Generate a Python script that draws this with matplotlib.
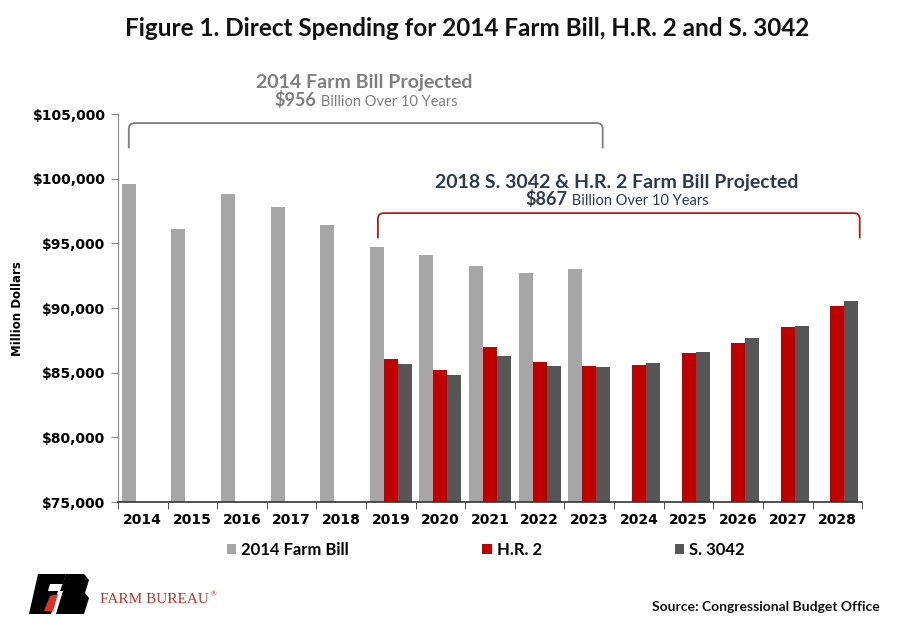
import numpy as np
import matplotlib
matplotlib.use("Agg")
import matplotlib.pyplot as plt
from matplotlib.path import Path
from matplotlib.patches import PathPatch, Polygon
from matplotlib.transforms import ScaledTranslation

# ── Data (million dollars) ───────────────────────────────────────────────────
years = [2014, 2015, 2016, 2017, 2018, 2019, 2020, 2021, 2022, 2023,
         2024, 2025, 2026, 2027, 2028]
farm_bill_2014 = [99560, 96120, 98790, 97800, 96430, 94730, 94090, 93230, 92720, 93030,
                  None, None, None, None, None]
hr2 = [None, None, None, None, None, 86090, 85240, 86990, 85800, 85500,
       85630, 86530, 87330, 88570, 90140]
s3042 = [None, None, None, None, None, 85700, 84850, 86270, 85550, 85440,
         85750, 86600, 87720, 88620, 90580]
series_names = ["2014 Farm Bill", "H.R. 2", "S. 3042"]
y_ticks = [75000, 80000, 85000, 90000, 95000, 100000, 105000]

# ── Style ─────────────────────────────────────────────────────────────────────
NARROW = ["Lato", "DejaVu Sans"]
MAIN = ["DejaVu Sans"]
SERIF = ["Liberation Serif", "DejaVu Serif"]
C_GRAY = "#A6A6A6"
C_RED = "#C00000"
C_DARK = "#565656"
C_NAVY = "#2E3A4C"
C_LABEL = "#7F7F7F"


def bracket(ax, x0, x1, y_top, drop, color, rx=0.12, ry=450):
    """Rounded square bracket opening downward, drawn in data coords."""
    verts = [
        (x0, y_top - drop), (x0, y_top - ry), (x0, y_top), (x0 + rx, y_top),
        (x1 - rx, y_top), (x1, y_top), (x1, y_top - ry), (x1, y_top - drop),
    ]
    codes = [Path.MOVETO, Path.LINETO, Path.CURVE3, Path.CURVE3,
             Path.LINETO, Path.CURVE3, Path.CURVE3, Path.LINETO]
    ax.add_patch(PathPatch(Path(verts, codes), fill=False, edgecolor=color,
                           lw=1.3, clip_on=False))


def two_part(ax, xc, y, parts, color):
    """Centre a line made of differently styled pieces on (xc, y)."""
    fig = ax.figure
    renderer = fig.canvas.get_renderer()
    texts = [ax.text(xc, y, s, ha="left", va="baseline", family=NARROW,
                     color=color, clip_on=False, **kw) for s, kw in parts]
    widths = [t.get_window_extent(renderer).width for t in texts]
    offset = -sum(widths) / 2
    for t, wd in zip(texts, widths):
        t.set_transform(ax.transData + ScaledTranslation(offset / fig.dpi, 0,
                                                         fig.dpi_scale_trans))
        offset += wd


def main():
    fig = plt.figure(figsize=(9, 6.23), dpi=100)
    ax = fig.add_axes([0.131, 0.194, 0.827, 0.623])

    x = np.arange(len(years))
    w = 0.282
    colors = [C_GRAY, C_RED, C_DARK]
    for i, (vals, c, name) in enumerate(zip([farm_bill_2014, hr2, s3042], colors, series_names)):
        xs = [xi + (i - 1) * w for xi, v in zip(x, vals) if v is not None]
        vs = [v for v in vals if v is not None]
        ax.bar(xs, vs, width=w, color=c, label=name, align="center", zorder=2)

    ax.set_xlim(-0.5, len(years) - 0.5)
    ax.set_ylim(y_ticks[0], y_ticks[-1])
    ax.set_yticks(y_ticks)
    ax.set_yticklabels([f"${v:,.0f}" for v in y_ticks], family=MAIN,
                       fontweight="bold", fontsize=10)
    ax.set_xticks(x)
    ax.set_xticklabels([str(y) for y in years], family=MAIN,
                       fontweight="bold", fontsize=10)
    ax.set_xticks(np.arange(-0.5, len(years)), minor=True)
    ax.tick_params(axis="x", which="major", length=0, pad=8)
    ax.tick_params(axis="x", which="minor", length=5, color="#333333")
    ax.tick_params(axis="y", length=5, color="#888888", pad=4)

    for s in ["top", "right"]:
        ax.spines[s].set_visible(False)
    ax.spines["left"].set_color("#888888")
    ax.spines["bottom"].set_color("#333333")
    ax.spines["bottom"].set_linewidth(1.2)

    ax.set_ylabel("Million Dollars", family=MAIN, fontweight="bold",
                  fontsize=8.5, labelpad=6)

    # ── Brackets and bracket labels ──────────────────────────────────────────
    bracket(ax, -0.28, 9.27, 104300, 1950, "#7F7F7F")
    bracket(ax, 4.74, 14.45, 97340, 1950, "#B01C1C")

    ax.text(4.47, 107450, "2014 Farm Bill Projected", ha="center", va="center",
            family=NARROW, fontweight="bold", fontsize=14, color=C_LABEL,
            clip_on=False)
    two_part(ax, 4.5, 105650, [("$956", {"fontweight": "bold", "fontsize": 13}),
                               (" Billion Over 10 Years", {"fontsize": 10.5})], C_LABEL)

    ax.text(9.56, 99700, "2018 S. 3042 & H.R. 2 Farm Bill Projected", ha="center",
            va="center", family=NARROW, fontweight="bold", fontsize=14,
            color=C_NAVY, clip_on=False)
    two_part(ax, 9.56, 97990, [("$867", {"fontweight": "bold", "fontsize": 13}),
                               (" Billion Over 10 Years", {"fontsize": 10.5})], C_NAVY)

    # ── Title, legend, footer ────────────────────────────────────────────────
    fig.text(0.519, 0.955, "Figure 1. Direct Spending for 2014 Farm Bill, H.R. 2 and S. 3042",
             ha="center", va="center", family=NARROW, fontweight="bold",
             fontsize=17.5, color="#111111")

    fig.legend(loc="center", bbox_to_anchor=(0.54, 0.117), ncol=3,
               frameon=False, handlelength=0.55, handleheight=0.55,
               handletextpad=0.3, columnspacing=8.0,
               prop={"family": NARROW, "weight": "bold", "size": 12})

    fig.text(0.978, 0.025, "Source: Congressional Budget Office", ha="right",
             va="center", family=NARROW, fontweight="bold", fontsize=10,
             color="#111111")

    # Farm Bureau logo, rough shape
    px = lambda xp, yp: (xp / 900, 1 - yp / 623)
    f_shape = [px(38, 574), px(66, 574), px(63, 584), px(50, 584), px(48, 591),
               px(58, 591), px(51, 614), px(29, 614)]
    b_shape = [px(66, 574), px(84, 574), px(89, 580), px(85, 593), px(89, 598),
               px(84, 614), px(56, 614), px(63, 591), px(60, 591)]
    red_shape = [px(50, 596), px(58, 594), px(53, 611), px(44, 611)]
    for shp, c in [(f_shape, "black"), (b_shape, "black"), (red_shape, "#E0302A")]:
        fig.patches.append(Polygon(shp, closed=True, facecolor=c, edgecolor="none",
                                   transform=fig.transFigure, figure=fig))
    fb = fig.text(100 / 900, 0.038, "FARM BUREAU", ha="left", va="center",
                  family=SERIF, fontsize=11, color="#C8322B")
    fig.texts.append(matplotlib.text.Annotation(
        "®", xy=(1, 0.85), xycoords=fb, xytext=(1, 0), textcoords="offset points",
        ha="left", va="center", family=SERIF, fontsize=5.5, color="#C8322B"))
    fig.texts[-1].set_figure(fig)

    fig.savefig("out.png", dpi=100)
    plt.close(fig)


if __name__ == "__main__":
    main()
